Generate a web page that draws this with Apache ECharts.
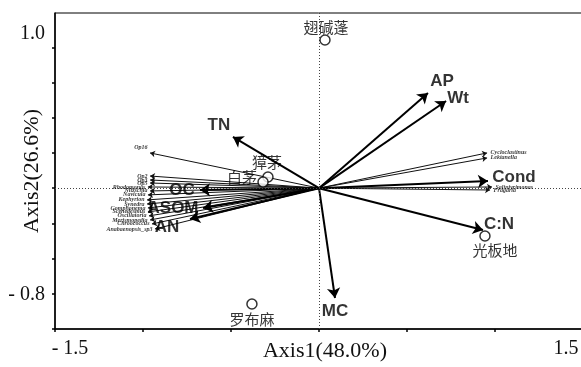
<!DOCTYPE html>
<html>
<head>
<meta charset="utf-8">
<script src="https://cdn.jsdelivr.net/npm/echarts@6/dist/echarts.min.js"></script>
<style>html,body{margin:0;padding:0;background:#fff}#c{width:581px;height:367px}</style>
</head>
<body>
<div id="c"></div>
<script>
// ---- data ----
const envNames = ['AP', 'Wt', 'TN', 'MC', 'Cond', 'C:N', 'OC', 'ASOM', 'AN'];
const envX = [0.619, 0.722, -0.489, 0.091, 0.960, 0.932, -0.676, -0.659, -0.733];
const envY = [0.721, 0.660, 0.388, -0.832, 0.055, -0.317, -0.014, -0.150, -0.233];

const speciesNames = ['Cycloclastinus', 'Lektanella', 'Salinivrimonas', 'Fragaria',
  'Op16', 'Op2', 'Op3', 'Op5', 'Rhodomonas', 'Nitzschia', 'Navicula', 'Kephyrion',
  'Synedra', 'Gomphonema', 'Scenedesmus', 'Oscillatoria', 'Merismopedia', 'Chroococcus', 'Anabaenopsis_sp3'];
const speciesX = [0.955, 0.955, 0.983, 0.972,
  -0.960, -0.960, -0.960, -0.960, -0.972, -0.960, -0.972, -0.977,
  -0.977, -0.972, -0.972, -0.966, -0.960, -0.949, -0.932];
const speciesY = [0.267, 0.229, 0.009, -0.014,
  0.267, 0.092, 0.062, 0.039, 0.009, -0.021, -0.051, -0.089,
  -0.120, -0.150, -0.180, -0.210, -0.241, -0.271, -0.309];

const siteNames = ['翅碱蓬', '獐茅', '白茅', '光板地', '罗布麻'];
const siteX = [0.034, -0.290, -0.318, 0.943, -0.381];
const siteY = [1.122, 0.085, 0.047, -0.362, -0.877];

const xTickValues = [-1.5, -1.0, -0.5, 0, 0.5, 1.0, 1.5];
const xLabelValues = [-1.415, 1.403];
const xTickLabels = ['- 1.5', '1.5'];
const yTickValues = [-1.0667, -0.8, -0.5333, -0.2667, 0, 0.2667, 0.5333, 0.8, 1.0667];
const yLabelValues = [1.172, -0.809];
const yTickLabels = ['1.0', '- 0.8'];

// ---- layout (label offsets in px, not data) ----
const envLabelOffset = {
  'AP': [14, -12], 'Wt': [12, -3], 'TN': [-14, -12], 'MC': [0, 13], 'Cond': [26, -4],
  'C:N': [16, -6], 'OC': [-18, 0], 'ASOM': [-30, 0], 'AN': [-23, 8]
};
const siteLabelOffset = {
  '翅碱蓬': [1, -13], '獐茅': [-1, -15], '白茅': [-21, -5], '光板地': [10, 14], '罗布麻': [0, 15]
};

function pick(vals, labels) {
  return function (v) {
    let best = 0, d = Infinity;
    vals.forEach((x, i) => { if (Math.abs(x - v) < d) { d = Math.abs(x - v); best = i; } });
    return labels[best];
  };
}

const chart = echarts.init(document.getElementById('c'), null, { renderer: 'canvas' });

const envLines = envNames.map((n, i) => ({ name: n, coords: [[0, 0], [envX[i], envY[i]]] }));
const spLines = speciesNames.map((n, i) => ({ name: n, coords: [[0, 0], [speciesX[i], speciesY[i]]] }));

const envLabels = envNames.map((n, i) => ({
  name: n, value: [envX[i], envY[i]],
  label: { offset: envLabelOffset[n] }
}));
const spLabels = speciesNames.map((n, i) => {
  const left = speciesX[i] < 0;
  const item = { name: n, value: [speciesX[i], speciesY[i]], label: { position: left ? 'left' : 'right', distance: left ? 2 : 3 } };
  if (n === 'Op16') item.label.offset = [0, -5];
  return item;
});
const sites = siteNames.map((n, i) => ({
  name: n, value: [siteX[i], siteY[i]], label: { offset: siteLabelOffset[n] }
}));

const serif = 'Liberation Serif';
const option = {
  animation: false,
  backgroundColor: '#fff',
  grid: { left: 55, top: 13, width: 528, height: 316, show: true, borderColor: '#000', borderWidth: 1,
    containLabel: false, outerBoundsMode: 'none' },
  xAxis: {
    type: 'value', min: -1.5, max: 1.5,
    splitLine: { show: false },
    axisLine: { onZero: false, lineStyle: { color: '#000', width: 1.5 } },
    axisTick: { customValues: xTickValues, length: 3, lineStyle: { color: '#000', width: 1.5 } },
    axisLabel: { customValues: xLabelValues, formatter: pick(xLabelValues, xTickLabels),
      fontFamily: serif, fontSize: 20, color: '#111', margin: 10 },
    name: 'Axis1(48.0%)', nameLocation: 'middle', nameGap: 11, nameMoveOverlap: false,
    nameTextStyle: { fontFamily: serif, fontSize: 22, color: '#111', verticalAlign: 'top', padding: [0, 0, 0, 12] }
  },
  yAxis: {
    type: 'value', min: -1.0667, max: 1.3267,
    splitLine: { show: false },
    axisLine: { onZero: false, lineStyle: { color: '#000', width: 1.5 } },
    axisTick: { customValues: yTickValues, length: 3, lineStyle: { color: '#000', width: 1.5 } },
    axisLabel: { customValues: yLabelValues, formatter: pick(yLabelValues, yTickLabels),
      fontFamily: serif, fontSize: 20, color: '#111', margin: 10 },
    name: 'Axis2(26.6%)', nameLocation: 'middle', nameGap: 12, nameRotate: 90, nameMoveOverlap: false,
    nameTextStyle: { fontFamily: serif, fontSize: 22, color: '#111', verticalAlign: 'bottom', padding: [0, 0, 0, 0] }
  },
  series: [
    {
      type: 'lines', coordinateSystem: 'cartesian2d', z: 3,
      symbol: ['none', 'arrow'], symbolSize: [0, 5],
      lineStyle: { color: '#111', width: 1, opacity: 1 },
      data: spLines, silent: true
    },
    {
      type: 'lines', coordinateSystem: 'cartesian2d', z: 4,
      symbol: ['none', 'arrow'], symbolSize: [0, 10],
      lineStyle: { color: '#000', width: 2, opacity: 1 },
      data: envLines, silent: true
    },
    {
      type: 'scatter', z: 6, symbolSize: 1, itemStyle: { color: 'rgba(0,0,0,0)' },
      label: { show: true, position: 'inside', formatter: '{b}', fontFamily: 'Liberation Sans',
        fontWeight: 'bold', fontSize: 17, color: '#000' },
      data: envLabels, silent: true
    },
    {
      type: 'scatter', z: 6, symbolSize: 1, itemStyle: { color: 'rgba(0,0,0,0)' },
      label: { show: true, formatter: '{b}', fontFamily: serif, fontStyle: 'italic',
        fontWeight: 'bold', fontSize: 6, color: '#000' },
      data: spLabels, silent: true
    },
    {
      type: 'scatter', z: 7, symbol: 'circle', symbolSize: 10,
      itemStyle: { color: '#fff', borderColor: '#000', borderWidth: 1.5 },
      label: { show: true, position: 'inside', formatter: '{b}', fontFamily: 'Noto Sans CJK SC',
        fontSize: 15, color: '#000' },
      data: sites, silent: true,
      markLine: {
        silent: true, symbol: 'none', animation: false,
        label: { show: false },
        lineStyle: { type: [1, 2], color: '#444', width: 1 },
        data: [{ xAxis: 0 }, { yAxis: 0 }]
      }
    }
  ]
};
chart.setOption(option);
</script>
</body>
</html>
